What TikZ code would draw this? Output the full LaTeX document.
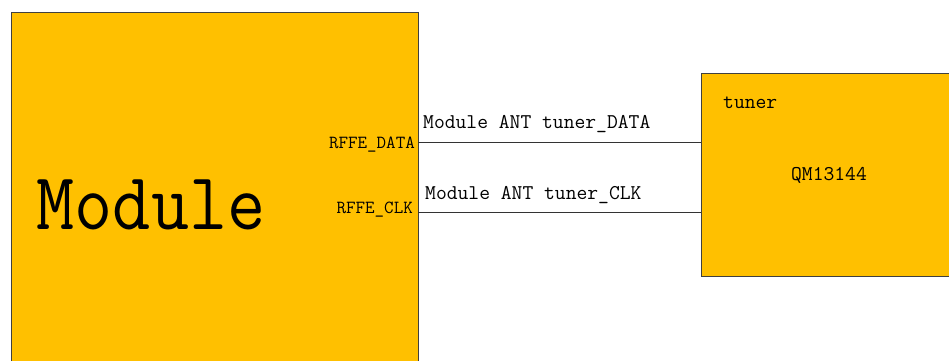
\documentclass[tikz,border=0pt]{standalone}
\usepackage{tikz}
\usetikzlibrary{positioning,calc}
\definecolor{blkfill}{HTML}{FFC000}
\definecolor{blkedge}{HTML}{404040}
\tikzset{
  blk/.style={draw=blkedge,fill=blkfill,line width=1pt,inner sep=0pt,outer sep=0pt},
  wire/.style={line width=0.9pt,black!80},
  pinlbl/.style={font=\ttfamily\fontsize{18.5}{18.5}\selectfont,inner sep=0pt},
  wirelbl/.style={font=\ttfamily\fontsize{21}{21}\selectfont,inner sep=0pt},
  bigname/.style={font=\ttfamily\fontsize{74}{74}\selectfont,inner sep=0pt,yscale=1.1},
}

\begin{document}
\begin{tikzpicture}[x=1pt,y=-1pt]
  % frame of the page
  \clip (0,0) rectangle (949,360);
  \fill[white] (0,0) rectangle (949,360);
  % the two blocks
  \node[blk,minimum width=407pt,minimum height=380pt] (module) at (214.5,202) {};
  \node[blk,minimum width=270pt,minimum height=203pt] (tuner) at (836,174.5) {};
  \node[bigname,transform shape] (modname) at (151,205) {Module};
  \node[wirelbl,anchor=west] (tunername) at (723,103) {tuner};
  \node[wirelbl] (tunerchip) at (829,175) {QM13144};
  % pins on the module side
  \coordinate (dataA) at (418,142);
  \coordinate (clkA) at (418,212);
  \node[pinlbl,anchor=east] (datapin) at (415,145) {RFFE\_DATA};
  \node[pinlbl,anchor=east] (clkpin) at (413,210) {RFFE\_CLK};
  % wires to the tuner
  \draw[wire] (module.east |- dataA) -- (tuner.west |- dataA);
  \draw[wire] (module.east |- clkA) -- (tuner.west |- clkA);
  \node[wirelbl,anchor=west] (datalbl) at (423,124) {Module ANT tuner\_DATA};
  \node[wirelbl,anchor=west] (clklbl) at (425,195) {Module ANT tuner\_CLK};
\end{tikzpicture}
\end{document}
